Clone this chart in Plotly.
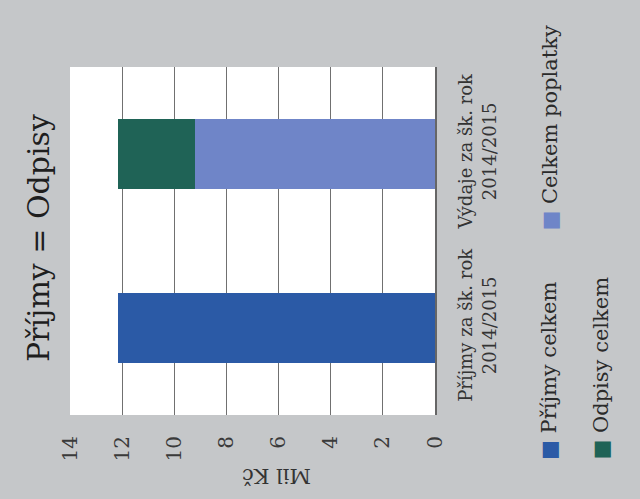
import plotly.graph_objects as go

# ---- data ----
categories = ["Příjmy za šk. rok<br>2014/2015", "Výdaje za šk. rok<br>2014/2015"]
series_names = ["Příjmy celkem", "Celkem poplatky", "Odpisy celkem"]
prijmy_celkem = [12.15, None]
celkem_poplatky = [None, 9.2]
odpisy_celkem = [None, 2.95]
tick_vals = [0, 2, 4, 6, 8, 10, 12, 14]
title_text = "Příjmy = Odpisy"
axis_title = "Mil Kč"

colors = {"Příjmy celkem": "#2b5aa6", "Celkem poplatky": "#6f85c8", "Odpisy celkem": "#1f6356"}
FONT = "DejaVu Serif"
BG = "#c5c7c9"

W, H = 640, 499
L, R, T, B = 70, 435, 67, 415


def px(xp):
    return (xp - L) / (R - L)


def py(yp):
    return (B - yp) / (B - T)


fig = go.Figure()
for name, vals in zip(series_names, [prijmy_celkem, celkem_poplatky, odpisy_celkem]):
    fig.add_trace(go.Bar(
        y=categories, x=vals, name=name, orientation="h",
        marker=dict(color=colors[name], line=dict(width=0)),
        showlegend=False,
    ))

fig.update_layout(
    width=W, height=H,
    barmode="stack", bargap=0.6,
    paper_bgcolor=BG, plot_bgcolor="white",
    margin=dict(l=L, r=W - R, t=T, b=H - B, pad=0),
    font=dict(family=FONT, color="#2a2a2a", size=18),
    xaxis=dict(
        range=[14, 0], tickvals=tick_vals, tickangle=-90,
        showgrid=True, gridcolor="#707070", gridwidth=1,
        zeroline=False, showline=False, ticks="",
        ticklabelstandoff=16, tickfont=dict(size=20, family=FONT, color="#3a3a3a"),
        fixedrange=True,
    ),
    yaxis=dict(
        side="right", tickangle=-90, showgrid=False, zeroline=False,
        showline=True, linecolor="#666", linewidth=1.5,
        ticks="", ticklabelstandoff=14,
        tickfont=dict(size=18, family=FONT, color="#333"),
        categoryorder="array", categoryarray=categories,
    ),
)

ann = []
# chart title (rotated)
ann.append(dict(text=title_text, x=px(38), y=py(238), xref="paper", yref="paper",
                xanchor="center", yanchor="middle",
                textangle=-90, showarrow=False, font=dict(size=30, family=FONT, color="#1e1e1e")))
# value axis title (upside down)
ann.append(dict(text=axis_title, x=px(277), y=py(476), xref="paper", yref="paper",
                xanchor="center", yanchor="middle",
                textangle=180, showarrow=False, font=dict(size=21, family=FONT, color="#333")))
# legend entries (rotated)
legend_pos = {"Příjmy celkem": (549, 462), "Celkem poplatky": (549, 233), "Odpisy celkem": (600, 462)}
for name in series_names:
    x0, y0 = legend_pos[name]
    ann.append(dict(
        text=f"<span style='color:{colors[name]}'>■</span> {name}",
        x=px(x0), y=py(y0), xref="paper", yref="paper", xanchor="center", yanchor="bottom",
        textangle=-90, showarrow=False, font=dict(size=21, family=FONT, color="#2a2a2a"),
    ))
fig.update_layout(annotations=ann)

fig.write_html("out.html")
